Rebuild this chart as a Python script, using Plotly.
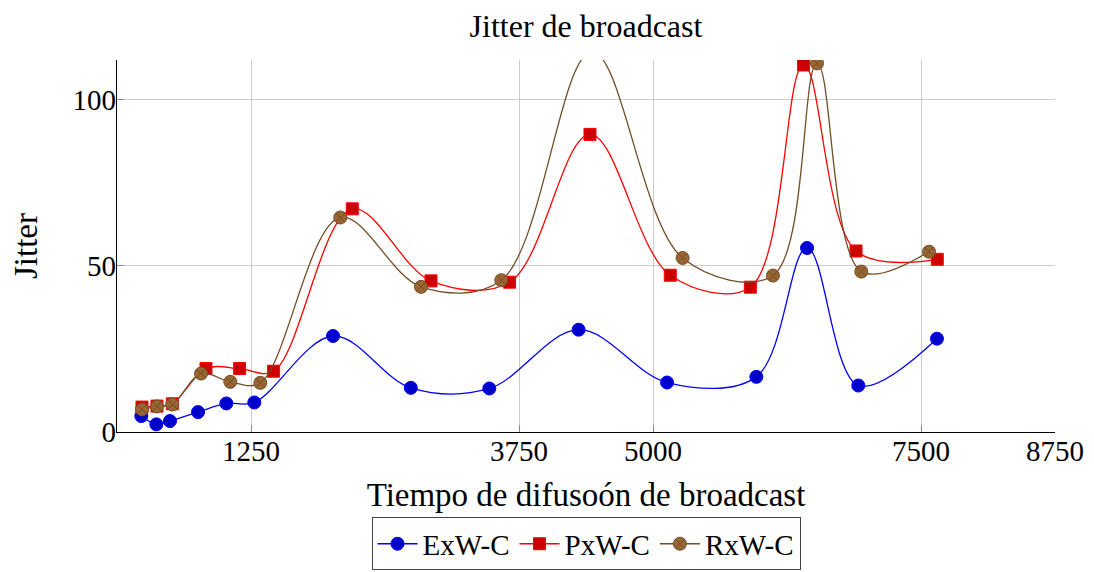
import plotly.graph_objects as go

# Data
x_exw = [227, 367, 494, 756, 1020, 1281, 2015, 2741, 3473, 4306, 5131, 5964, 6437, 6915, 7649]
y_exw = [4.8, 2.3, 3.3, 6.0, 8.6, 8.9, 28.9, 13.3, 13.1, 30.8, 14.9, 16.6, 55.4, 14.0, 28.1]

x_pxw = [233, 373, 516, 830, 1144, 1461, 2195, 2929, 3662, 4412, 5161, 5908, 6405, 6894, 7652]
y_pxw = [7.5, 7.8, 8.5, 19.1, 19.1, 18.3, 67.2, 45.5, 45.1, 89.6, 47.2, 43.6, 110.5, 54.5, 52.0]

x_rxw = [233, 373, 516, 784, 1057, 1337, 2083, 2836, 3585, 4430, 5276, 6119, 6530, 6943, 7575]
y_rxw = [6.8, 7.7, 8.3, 17.6, 15.1, 14.8, 64.6, 43.7, 45.7, 114.5, 52.4, 47.1, 111.0, 48.3, 54.3]

x_ticks = [1250, 3750, 5000, 7500, 8750]
y_ticks = [0, 50, 100]

FONT = "Liberation Serif"

fig = go.Figure()
series = [
    ("ExW-C", x_exw, y_exw, "#0000FF", "#0000CC", "#0000FF", "circle", 13),
    ("PxW-C", x_pxw, y_pxw, "#FF0000", "#CC0000", "#FF0000", "square", 12),
    ("RxW-C", x_rxw, y_rxw, "#734D26", "#996633", "#734D26", "circle-x", 13),
]
for name, xs, ys, lc, fc, ec, sym, sz in series:
    fig.add_trace(go.Scatter(
        x=xs, y=ys, name=name, mode="lines+markers",
        line=dict(color=lc, width=1.3, shape="spline", smoothing=1.0),
        marker=dict(symbol=sym, size=sz, color=fc, line=dict(color=ec, width=1)),
        cliponaxis=True,
    ))

# page body has an 8px margin; figure is sized to fill the rest of the window
W, H = 1086, 564
fig.update_layout(
    width=W, height=H,
    margin=dict(l=109, r=39, t=52, b=140, autoexpand=False),
    paper_bgcolor="white", plot_bgcolor="white",
    font=dict(family=FONT, size=29, color="black"),
    title=dict(text="Jitter de broadcast", x=0.5, xref="paper", xanchor="center",
               y=1 - 18 / H, yref="container", yanchor="middle",
               font=dict(family=FONT, size=32, color="black")),
    showlegend=True,
    legend=dict(orientation="h", x=0.5, xanchor="center", y=-0.372, yanchor="bottom",
                bordercolor="#444444", borderwidth=1, bgcolor="white",
                font=dict(family=FONT, size=29), itemwidth=40,
                tracegroupgap=0, traceorder="normal"),
)

fig.update_xaxes(
    range=[0, 8750], tickmode="array", tickvals=x_ticks,
    ticktext=[str(v) for v in x_ticks],
    showgrid=True, gridcolor="#cccccc", gridwidth=1,
    showline=True, linecolor="black", linewidth=1.2, mirror=False,
    ticks="inside", ticklen=7, tickcolor="#888888",
    zeroline=False, automargin=False,
    tickfont=dict(family=FONT, size=29),
    ticklabelstandoff=-7,
    title=dict(text="Tiempo de difusoón de broadcast", standoff=16,
               font=dict(family=FONT, size=33)),
)
fig.update_yaxes(
    range=[0, 112], tickmode="array", tickvals=y_ticks,
    ticktext=[str(v) for v in y_ticks],
    showgrid=True, gridcolor="#cccccc", gridwidth=1,
    showline=True, linecolor="black", linewidth=1.2, mirror=False,
    ticks="inside", ticklen=7, tickcolor="#888888",
    zeroline=False, automargin=False,
    tickfont=dict(family=FONT, size=29),
    ticklabelstandoff=-6,
    title=dict(text="Jitter", standoff=30, font=dict(family=FONT, size=33)),
)

fig.write_html("out.html")
